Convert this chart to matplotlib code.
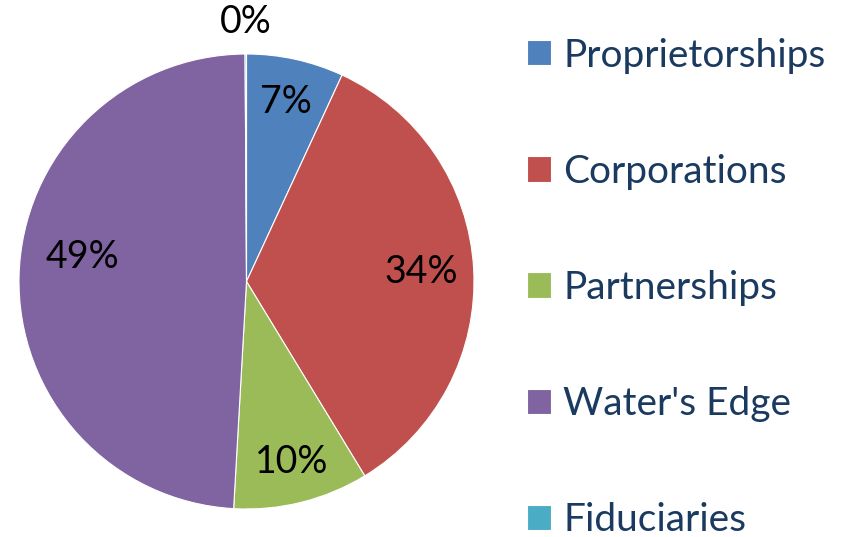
import matplotlib
matplotlib.use('Agg')
import matplotlib.pyplot as plt
import numpy as np

categories = ['Proprietorships', 'Corporations', 'Partnerships', "Water's Edge", 'Fiduciaries']
shares = [6.9, 34.4, 9.6, 49.0, 0.1]
colors = ['#4F81BD', '#C0504D', '#9BBB59', '#8064A2', '#4BACC6']
# percent label placement: fraction of radius, and angle nudge in degrees
label_dist = [0.81, 0.77, 0.82, 0.73, 1.14]
label_nudge = [0, 0, 0, -7, 0]

plt.rcParams['font.family'] = ['Lato', 'DejaVu Sans']

fig = plt.figure(figsize=(8.48, 5.37), dpi=100)
ax = fig.add_axes([0, 0, 1, 1])

cx, cy, r = 246.5, 537 - 281.5, 227.5
wedges, _ = ax.pie(shares, colors=colors, startangle=90, counterclock=False,
                   center=(cx, cy), radius=r, frame=True,
                   wedgeprops=dict(edgecolor='white', linewidth=0.8))
ax.set_xlim(0, 848)
ax.set_ylim(0, 537)
ax.axis('off')

total = sum(shares)
for w, val, d, nudge in zip(wedges, shares, label_dist, label_nudge):
    ang = np.deg2rad((w.theta1 + w.theta2) / 2 + nudge)
    ax.text(cx + d * r * np.cos(ang), cy + d * r * np.sin(ang),
            f'{val / total * 100:.0f}%', ha='center', va='center',
            fontsize=27, color='black')

leg = ax.legend(wedges, categories, loc='upper left',
                bbox_to_anchor=(511.5 / 848, 1 - 22 / 537),
                frameon=False, fontsize=28, labelcolor='#1B3A60',
                handlelength=0.62, handleheight=0.62, handletextpad=0.31,
                labelspacing=2.06, borderaxespad=0)

fig.savefig('out.png', dpi=100)
